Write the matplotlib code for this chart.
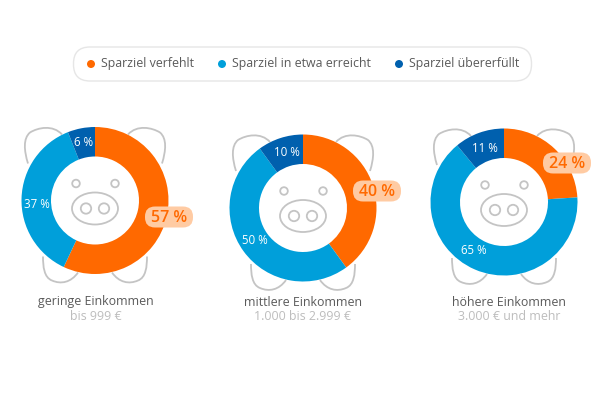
import matplotlib.pyplot as plt
from matplotlib.patches import Circle, Ellipse, FancyBboxPatch, PathPatch
from matplotlib.path import Path

plt.rcParams['font.family'] = ['Open Sans', 'DejaVu Sans']

categories = ['Sparziel verfehlt', 'Sparziel in etwa erreicht', 'Sparziel übererfüllt']
colors = ['#FF6900', '#009FDA', '#0060AE']
groups = ['geringe Einkommen', 'mittlere Einkommen', 'höhere Einkommen']
subtitles = ['bis 999 €', '1.000 bis 2.999 €', '3.000 € und mehr']
missed = [57, 40, 24]
reached = [37, 50, 65]
exceeded = [6, 10, 11]

# layout in pixels, y measured from the top
H = 408
centers = [(95, 200.5), (303, 208), (504, 202)]
caption_x = [96, 303, 509]
pills = [(169, 217), (377, 191), (567, 163)]
reached_pos = [(37, 204), (255, 240), (474, 250)]
exceeded_pos = [(84, 143), (287, 152), (485, 148)]
legend_dots = [91, 222, 399]
GREY = '#C4C4C4'


def outline(ax, cx, cy, pts):
    verts = [(cx + x, H - (cy + y)) for x, y in pts]
    codes = [Path.MOVETO] + [Path.CURVE4] * (len(pts) - 1)
    ax.add_patch(PathPatch(Path(verts, codes), fc='none', ec=GREY, lw=1.3, zorder=1))


def pig(ax, cx, cy):
    # ears and feet, mirrored left and right
    for s in (-1, 1):
        outline(ax, cx, cy, [(s * 67, -37), (s * 71, -50), (s * 72, -62), (s * 65, -68),
                             (s * 57, -73), (s * 42, -76), (s * 33, -66)])
        outline(ax, cx, cy, [(s * 52, 56), (s * 52, 66), (s * 51, 77), (s * 43, 80),
                             (s * 34, 84), (s * 24, 82), (s * 17, 72)])


def face(ax, cx, cy):
    y = H - cy
    for dx in (-19, 20):
        ax.add_patch(Circle((cx + dx, y + 17), 3.8, fc='white', ec=GREY, lw=1.3, zorder=4))
    ax.add_patch(Ellipse((cx, y - 8), 46, 32, fc='white', ec=GREY, lw=1.3, zorder=4))
    for dx in (-9, 9):
        ax.add_patch(Circle((cx + dx, y - 8), 5.2, fc='white', ec=GREY, lw=1.3, zorder=5))


fig = plt.figure(figsize=(6.12, 4.08), dpi=100)
ax = fig.add_axes([0, 0, 1, 1])

for i, (cx, cy) in enumerate(centers):
    pig(ax, cx, cy)
    wedges, _ = ax.pie([missed[i], reached[i], exceeded[i]], colors=colors, startangle=90, counterclock=False,
                       center=(cx, H - cy), radius=73.5, frame=True,
                       wedgeprops=dict(width=29.5, linewidth=0))
    for w in wedges:
        w.set_zorder(2)
    face(ax, cx, cy)

    px, py = pills[i]
    ax.add_patch(FancyBboxPatch((px - 14, H - py - 0.5), 28, 1, boxstyle='round,pad=10,rounding_size=10',
                                fc='#FFCBA3', ec='none', zorder=6))
    ax.text(px, H - py - 0.5, f'{missed[i]} %', color='#FF6900', fontsize=11.5, fontweight='semibold',
            ha='center', va='center', zorder=7)
    x, y = reached_pos[i]
    ax.text(x, H - y, f'{reached[i]} %', color='white', fontsize=8.3, ha='center', va='center', zorder=7)
    x, y = exceeded_pos[i]
    ax.text(x, H - y, f'{exceeded[i]} %', color='white', fontsize=8.3, ha='center', va='center', zorder=7)

    ax.text(caption_x[i], H - 302, groups[i], color='#5A5A5A', fontsize=8.9, ha='center', va='center')
    ax.text(caption_x[i], H - 317, subtitles[i], color='#BDBDBD', fontsize=8.9, ha='center', va='center')

# legend box
ax.add_patch(FancyBboxPatch((90, H - 64.5), 425, 1, boxstyle='round,pad=16.5,rounding_size=16.5',
                            fc='white', ec='#E6E6E6', lw=1))
for x, c, label in zip(legend_dots, colors, categories):
    ax.add_patch(Circle((x, H - 64), 4, fc=c, ec='none', zorder=3))
    ax.text(x + 10, H - 64, label, color='#5A5A5A', fontsize=8.9, ha='left', va='center', zorder=3)

ax.set_xlim(0, 612)
ax.set_ylim(0, H)
ax.set_aspect('equal')
ax.axis('off')
fig.savefig('out.png', dpi=100, facecolor='white')
plt.close()
